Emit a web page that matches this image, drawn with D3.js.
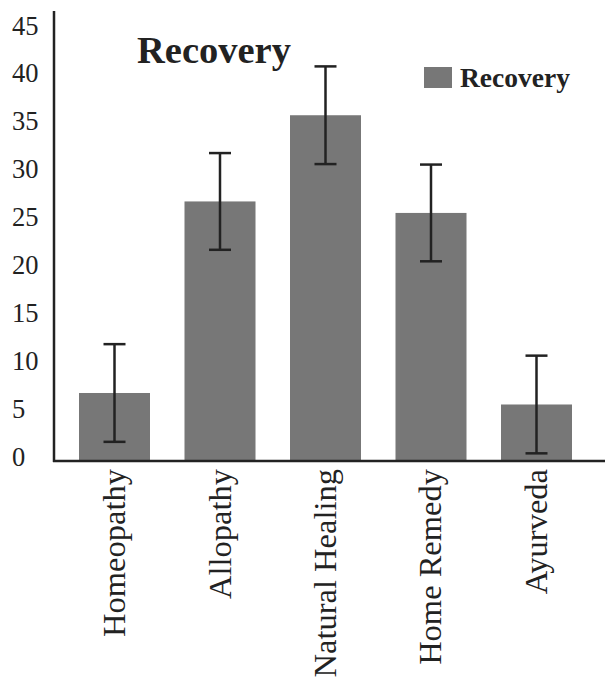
<!DOCTYPE html>
<html>
<head>
<meta charset="utf-8">
<script src="https://cdn.jsdelivr.net/npm/d3@7"></script>
<style>
  html, body { margin: 0; padding: 0; background: #fff; }
  svg { display: block; }
</style>
</head>
<body>
<svg id="chart" width="605" height="686"></svg>
<script>
const categories = ["Homeopathy", "Allopathy", "Natural Healing", "Home Remedy", "Ayurveda"];
const values = [7.1, 27.1, 36.1, 25.9, 5.9];
const errors = [5.1, 5.05, 5.1, 5.05, 5.1];
const yTicks = [0, 5, 10, 15, 20, 25, 30, 35, 40, 45];
const seriesName = "Recovery";
const titleText = "Recovery";

const svg = d3.select("#chart");
const font = "'Liberation Serif', 'Times New Roman', serif";
const barColor = "#777777";
const ink = "#222222";

const x = d3.scaleBand().domain(categories).range([79, 572]).paddingInner(0.327).paddingOuter(0);
const y = d3.scaleLinear().domain([0, 45]).range([461, 30]);

// bars
svg.selectAll("rect.bar").data(categories).enter().append("rect")
  .attr("class", "bar")
  .attr("x", d => x(d))
  .attr("width", x.bandwidth())
  .attr("y", (d, i) => y(values[i]))
  .attr("height", (d, i) => y(0) - y(values[i]))
  .attr("fill", barColor);

// error bars
const eb = svg.selectAll("g.err").data(categories).enter().append("g").attr("class", "err")
  .attr("stroke", ink).attr("stroke-width", 2.5);
eb.append("line")
  .attr("x1", d => x(d) + x.bandwidth() / 2).attr("x2", d => x(d) + x.bandwidth() / 2)
  .attr("y1", (d, i) => y(values[i] + errors[i])).attr("y2", (d, i) => y(values[i] - errors[i]));
eb.append("line")
  .attr("x1", d => x(d) + x.bandwidth() / 2 - 11).attr("x2", d => x(d) + x.bandwidth() / 2 + 11)
  .attr("y1", (d, i) => y(values[i] + errors[i])).attr("y2", (d, i) => y(values[i] + errors[i]));
eb.append("line")
  .attr("x1", d => x(d) + x.bandwidth() / 2 - 11).attr("x2", d => x(d) + x.bandwidth() / 2 + 11)
  .attr("y1", (d, i) => y(values[i] - errors[i])).attr("y2", (d, i) => y(values[i] - errors[i]));

// y axis line
svg.append("line").attr("x1", 54).attr("x2", 54).attr("y1", 11).attr("y2", y(0) + 1)
  .attr("stroke", ink).attr("stroke-width", 2.5);
// x axis line
svg.append("line").attr("x1", 53).attr("x2", 605).attr("y1", y(0)).attr("y2", y(0))
  .attr("stroke", ink).attr("stroke-width", 2.5);

// y tick labels (left aligned)
svg.selectAll("text.ytick").data(yTicks).enter().append("text")
  .attr("class", "ytick")
  .attr("x", 12)
  .attr("y", d => y(d) + 4.5)
  .attr("font-family", font).attr("font-size", 26.5).attr("fill", ink)
  .text(d => d);

// x labels rotated
svg.selectAll("text.xlab").data(categories).enter().append("text")
  .attr("class", "xlab")
  .attr("transform", d => `translate(${x(d) + x.bandwidth() / 2 + 10.5},${469}) rotate(-90)`)
  .attr("text-anchor", "end")
  .attr("font-family", font).attr("font-size", 32.5).attr("fill", ink)
  .text(d => d);

// title
svg.append("text").attr("x", 137).attr("y", 63)
  .attr("font-family", font).attr("font-size", 38.5).attr("font-weight", "bold").attr("fill", ink)
  .text(titleText);

// legend
svg.append("rect").attr("x", 424).attr("y", 67).attr("width", 28).attr("height", 21).attr("fill", barColor);
svg.append("text").attr("x", 460).attr("y", 87)
  .attr("font-family", font).attr("font-size", 27.5).attr("font-weight", "bold").attr("fill", ink)
  .text(seriesName);
</script>
</body>
</html>
